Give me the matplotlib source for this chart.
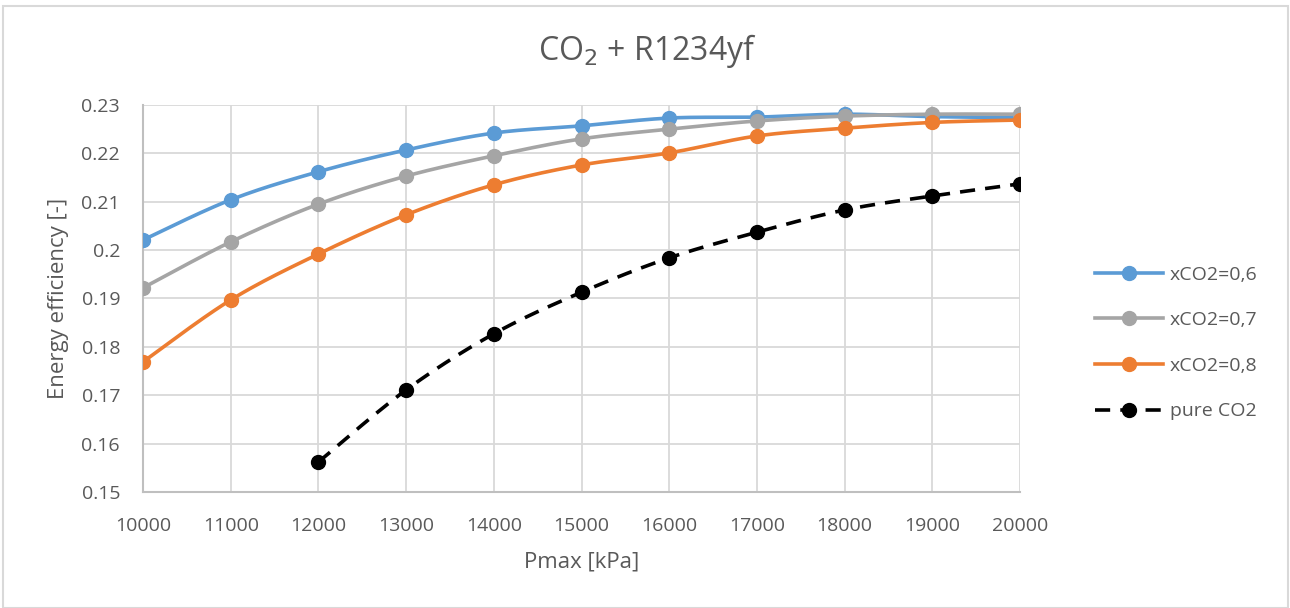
import numpy as np
import matplotlib
matplotlib.use("Agg")
import matplotlib.pyplot as plt
from matplotlib.patches import Rectangle

pmax = [10000, 11000, 12000, 13000, 14000, 15000, 16000, 17000, 18000, 19000, 20000]
x06 = [0.2021, 0.2104, 0.2162, 0.2207, 0.2242, 0.2257, 0.2273, 0.2275, 0.2281, 0.2276, 0.2274]
x07 = [0.1922, 0.2017, 0.2095, 0.2153, 0.2195, 0.2230, 0.2250, 0.2267, 0.2277, 0.2281, 0.2281]
x08 = [0.1769, 0.1897, 0.1992, 0.2073, 0.2135, 0.2176, 0.2201, 0.2236, 0.2252, 0.2264, 0.2269]
pmax_pure = [12000, 13000, 14000, 15000, 16000, 17000, 18000, 19000, 20000]
pure = [0.1562, 0.1711, 0.1827, 0.1913, 0.1984, 0.2037, 0.2083, 0.2112, 0.2137]

labels = ["xCO2=0,6", "xCO2=0,7", "xCO2=0,8", "pure CO2"]
colors = ["#5b9bd5", "#a5a5a5", "#ed7d31", "#000000"]
xticks = [10000, 11000, 12000, 13000, 14000, 15000, 16000, 17000, 18000, 19000, 20000]
yticks = [0.15, 0.16, 0.17, 0.18, 0.19, 0.2, 0.21, 0.22, 0.23]
ytick_labels = ["0.15", "0.16", "0.17", "0.18", "0.19", "0.2", "0.21", "0.22", "0.23"]


def smooth(xs, ys, n=30):
    xs = np.asarray(xs, float)
    ys = np.asarray(ys, float)
    px = np.concatenate([[xs[0]], xs, [xs[-1]]])
    py = np.concatenate([[ys[0]], ys, [ys[-1]]])
    outx, outy = [], []
    t = np.linspace(0, 1, n)
    for i in range(1, len(px) - 2):
        p0x, p0y = px[i], py[i]
        p3x, p3y = px[i + 1], py[i + 1]
        c1x = p0x + (px[i + 1] - px[i - 1]) / 6
        c1y = p0y + (py[i + 1] - py[i - 1]) / 6
        c2x = p3x - (px[i + 2] - px[i]) / 6
        c2y = p3y - (py[i + 2] - py[i]) / 6
        bx = (1 - t) ** 3 * p0x + 3 * (1 - t) ** 2 * t * c1x + 3 * (1 - t) * t ** 2 * c2x + t ** 3 * p3x
        by = (1 - t) ** 3 * p0y + 3 * (1 - t) ** 2 * t * c1y + 3 * (1 - t) * t ** 2 * c2y + t ** 3 * p3y
        outx.extend(bx)
        outy.extend(by)
    return np.array(outx), np.array(outy)


plt.rcParams['font.family'] = ['Open Sans', 'DejaVu Sans']
txt = "#595959"

fig = plt.figure(figsize=(12.9, 6.08), dpi=100)
fig.patch.set_facecolor("white")
fig.patches.append(Rectangle((3 / 1290, 0.0), 1285 / 1290, 1 - 6 / 608, transform=fig.transFigure,
                             fill=False, edgecolor="#d9d9d9", linewidth=1.5))

ax = fig.add_axes([143 / 1290, 1 - 492 / 608, (1020 - 143) / 1290, (492 - 105) / 608])

series = [(pmax, x06), (pmax, x07), (pmax, x08), (pmax_pure, pure)]
handles = []
for i, ((xs, ys), lab, c) in enumerate(zip(series, labels, colors)):
    sx, sy = smooth(xs, ys)
    ls = (0, (4.2, 2.8)) if i == 3 else "-"
    ax.plot(sx, sy, color=c, linewidth=2.6, linestyle=ls, zorder=3 + i, solid_capstyle="round")
    ax.plot(xs, ys, linestyle="none", marker="o", markersize=10, color=c, zorder=3 + i)
    h, = ax.plot([], [], color=c, linewidth=2.6, linestyle=ls, marker="o", markersize=10, label=lab)
    handles.append(h)

ax.set_xlim(10000, 20000)
ax.set_ylim(0.15, 0.23)
ax.set_xticks(xticks)
ax.set_xticklabels([str(v) for v in xticks])
ax.set_yticks(yticks)
ax.set_yticklabels(ytick_labels)
ax.grid(True, color="#d9d9d9", linewidth=1.3, zorder=0)
ax.set_axisbelow(True)
for s in ["top", "right"]:
    ax.spines[s].set_visible(False)
for s in ["left", "bottom"]:
    ax.spines[s].set_color("#bfbfbf")
    ax.spines[s].set_linewidth(1.5)
ax.tick_params(axis="both", length=0, labelsize=14, colors=txt)
ax.tick_params(axis="y", pad=16.5)
ax.tick_params(axis="x", pad=18)

ax.set_xlabel("Pmax [kPa]", fontsize=16, color=txt, labelpad=12)
ax.set_ylabel("Energy efficiency [-]", fontsize=16, color=txt, labelpad=9)
fig.text(647 / 1290, 1 - 51 / 608, "CO$_2$ + R1234yf", fontsize=23, color=txt, ha="center", va="center")

leg = fig.legend(handles=handles, loc="center left", bbox_to_anchor=(1085 / 1290, 1 - 343 / 608),
                 frameon=False, fontsize=14, handlelength=3.5, handletextpad=0.35,
                 labelspacing=1.42, borderpad=0)
for t in leg.get_texts():
    t.set_color(txt)

fig.savefig("out.png", dpi=100, facecolor="white")
